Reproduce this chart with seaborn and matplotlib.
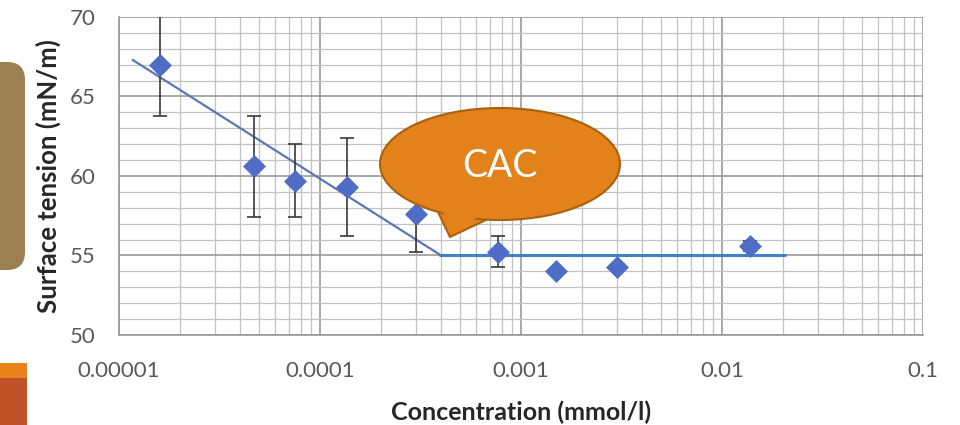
import numpy as np
import pandas as pd
import matplotlib
matplotlib.use("Agg")
import matplotlib.pyplot as plt
import matplotlib.ticker as mticker
from matplotlib.patches import Ellipse, Polygon, FancyBboxPatch, Rectangle
from matplotlib.transforms import IdentityTransform
import seaborn as sns

# Measured surface tension vs. concentration
concentration = [1.6e-5, 4.7e-5, 7.5e-5, 1.36e-4, 3.0e-4, 7.7e-4, 1.5e-3, 3.0e-3, 1.38e-2]
tension = [67.0, 60.6, 59.7, 59.3, 57.6, 55.25, 54.0, 54.3, 55.6]
tension_err = [3.2, 3.15, 2.3, 3.1, 2.4, 0.95, 0.0, 0.0, 0.3]

# Fitted trend: falling branch and plateau above the CAC
fall_x = [1.17e-5, 3.95e-4]
fall_y = [67.3, 55.05]
plateau_x = [3.95e-4, 2.06e-2]
plateau_y = [55.05, 55.05]

x_ticks = [1e-5, 1e-4, 1e-3, 1e-2, 1e-1]
x_tick_labels = ["0.00001", "0.0001", "0.001", "0.01", "0.1"]
y_ticks = [50, 55, 60, 65, 70]

df = pd.DataFrame({"conc": concentration, "tension": tension, "err": tension_err})
fall = pd.DataFrame({"conc": fall_x, "tension": fall_y})
plateau = pd.DataFrame({"conc": plateau_x, "tension": plateau_y})

sns.set_theme(style="white")
plt.rcParams["font.family"] = ["Lato", "DejaVu Sans"]

fig = plt.figure(figsize=(9.6, 4.25), dpi=100)
ax = fig.add_axes([119 / 960, 1 - 335 / 425, (923 - 119) / 960, (335 - 17) / 425])
ax.set_xscale("log")
ax.set_xlim(1e-5, 1e-1)
ax.set_ylim(50, 70)

# grid
ax.xaxis.set_minor_locator(mticker.LogLocator(base=10, subs=np.arange(2, 10)))
ax.xaxis.set_minor_formatter(mticker.NullFormatter())
ax.yaxis.set_minor_locator(mticker.MultipleLocator(1))
ax.grid(which="major", color="#9a9a9a", lw=1.2)
ax.grid(which="minor", color="#c2c2c2", lw=0.9)
ax.set_axisbelow(True)

for s in ["top", "right"]:
    ax.spines[s].set_visible(False)
for s in ["left", "bottom"]:
    ax.spines[s].set_color("#9a9a9a")
    ax.spines[s].set_linewidth(1.2)

# trend lines
sns.lineplot(data=fall, x="conc", y="tension", ax=ax, color="#5b78b5", lw=1.6, zorder=3)
sns.lineplot(data=plateau, x="conc", y="tension", ax=ax, color="#3f80c8", lw=2.2, zorder=3)

# error bars and points
ax.errorbar(df["conc"], df["tension"], yerr=df["err"], fmt="none",
            ecolor="#3a3a3a", elinewidth=1.2, capsize=5, capthick=1.2, zorder=4, clip_on=True)
sns.scatterplot(data=df, x="conc", y="tension", ax=ax, marker="D", s=125,
                color="#4f6cc6", edgecolor="#4f6cc6", linewidth=0.5, zorder=5)

ax.set_xticks(x_ticks)
ax.set_xticklabels(x_tick_labels)
ax.set_yticks(y_ticks)
ax.tick_params(axis="both", which="major", labelsize=16, labelcolor="#595959",
               length=5, color="#9a9a9a", width=1.2, direction="out")
ax.tick_params(axis="both", which="minor", length=0)
ax.tick_params(axis="x", pad=14)
ax.tick_params(axis="y", pad=12)
ax.set_xlabel("Concentration (mmol/l)", fontsize=18, fontweight="bold", color="#262626")
ax.xaxis.set_label_coords(0.5, -0.205)
ax.set_ylabel("Surface tension (mN/m)", fontsize=18.5, fontweight="bold", color="#262626",
              va="center")
ax.yaxis.set_label_coords(-0.088, 0.5)

# side decorations
ident = IdentityTransform()
H = 425
fig.patches.append(FancyBboxPatch((-30, H - 270), 55, 208,
                                  boxstyle="round,pad=0,rounding_size=18",
                                  facecolor="#9c7f52", edgecolor="none", transform=ident))
fig.patches.append(Rectangle((0, H - 378), 27, 15, facecolor="#e8821a",
                             edgecolor="none", transform=ident))
fig.patches.append(Rectangle((0, 0), 27, H - 378, facecolor="#c0522a",
                             edgecolor="none", transform=ident))

# CAC callout
fill = "#e3811a"
edge = "#a9600f"
tail = [(437, H - 210), (450, H - 237), (488, H - 219)]
fig.patches.append(Polygon(tail, closed=True, facecolor=fill, edgecolor=edge,
                           lw=1.5, transform=ident, zorder=10))
fig.patches.append(Ellipse((500, H - 164), 240, 112, facecolor=fill, edgecolor=edge,
                           lw=1.5, transform=ident, zorder=11))
tail_inner = [(440, H - 205), (452, H - 232), (484, H - 214)]
fig.patches.append(Polygon(tail_inner, closed=True, facecolor=fill, edgecolor="none",
                           transform=ident, zorder=12))
fig.text(500 / 960, 1 - 166 / 425, "CAC", color="white", fontsize=27,
         ha="center", va="center", zorder=13, family=["Lato", "DejaVu Sans"])

fig.savefig("out.png", dpi=100)
